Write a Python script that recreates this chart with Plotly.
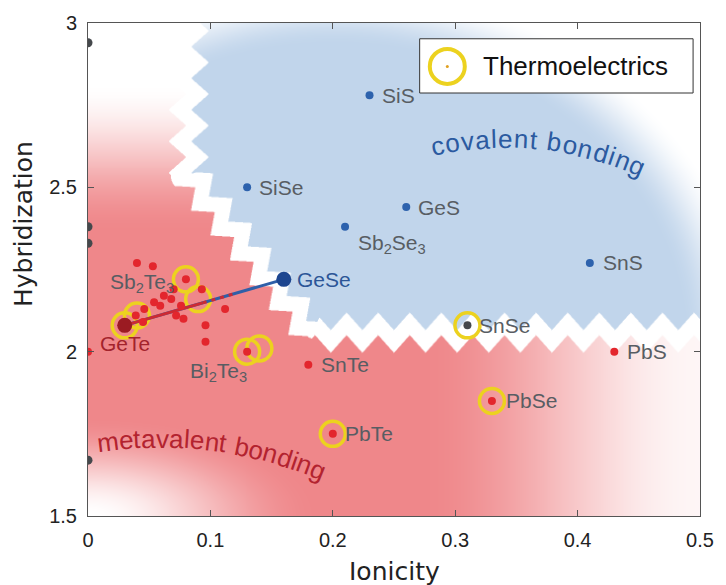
import math, zlib, struct, base64
import numpy as np
import plotly.graph_objects as go

# ---------------- data ----------------
covalent_names = ["SiS", "SiSe", "GeS", "Sb<sub>2</sub>Se<sub>3</sub>", "SnS"]
covalent_x = [0.23, 0.13, 0.26, 0.21, 0.41]
covalent_y = [2.78, 2.50, 2.44, 2.38, 2.27]

gese_x, gese_y = [0.16], [2.22]
gete_x, gete_y = [0.03], [2.08]

mvb_names = ["Sb<sub>2</sub>Te<sub>3</sub>", "Bi<sub>2</sub>Te<sub>3</sub>", "SnTe", "PbTe", "PbSe", "PbS"]
mvb_x = [0.08, 0.13, 0.18, 0.20, 0.33, 0.43]
mvb_y = [2.22, 2.00, 1.96, 1.75, 1.85, 2.00]

cluster_x = [0.040, 0.053, 0.093, 0.070, 0.062, 0.068, 0.054, 0.046, 0.039, 0.045,
             0.076, 0.072, 0.078, 0.112, 0.096, 0.096, 0.059, 0.0]
cluster_y = [2.27, 2.26, 2.19, 2.19, 2.17, 2.16, 2.15, 2.13, 2.11, 2.09,
             2.14, 2.11, 2.10, 2.13, 2.08, 2.03, 2.14, 2.00]

snse_x, snse_y = [0.31], [2.08]

edge_x = [0.0, 0.0, 0.0, 0.0]
edge_y = [2.94, 2.38, 2.33, 1.67]

thermo_x = [0.03, 0.04, 0.08, 0.09, 0.13, 0.14, 0.20, 0.33, 0.31]
thermo_y = [2.08, 2.11, 2.22, 2.16, 2.00, 2.01, 1.75, 1.85, 2.08]

x_ticks = [0, 0.1, 0.2, 0.3, 0.4, 0.5]
y_ticks = [1.5, 2, 2.5, 3]

# ---------------- geometry / styling ----------------
FIG_W, FIG_H = 726, 585
ML, MR, MT, MB = 88, 18, 16, 69
PW, PH = FIG_W - ML - MR, FIG_H - MT - MB
XR, YR = (0, 0.5), (1.5, 3.0)

RED_DOT = "#e3262d"
BLUE_DOT = "#2d62ad"
LABEL_C = "#585d63"
YELLOW = "#ecd21f"
LBL_FONT = "Liberation Sans, Arial, sans-serif"


def smoothstep(e0, e1, v):
    t = np.clip((v - e0) / (e1 - e0), 0, 1)
    return t * t * (3 - 2 * t)


def background_png():
    ss = 2
    W, H = PW * ss, PH * ss
    px = (np.arange(W) + 0.5) / ss
    py = (np.arange(H) + 0.5) / ss
    PX, PY = np.meshgrid(px, py)
    xd = XR[0] + PX / PW * (XR[1] - XR[0])
    yd = YR[1] - PY / PH * (YR[1] - YR[0])

    # zigzag boundary centre line (plot-pixel space)
    pts = np.array([[102, -40], [102, 154], [227, 314], [700, 314]], float)
    best = np.full(PX.shape, np.inf)
    signed = np.zeros(PX.shape)
    sarc = np.zeros(PX.shape)
    cum = 0.0
    for k in range(len(pts) - 1):
        A, B = pts[k], pts[k + 1]
        v = B - A
        L = math.hypot(*v)
        u = v / L
        rx, ry = PX - A[0], PY - A[1]
        t = np.clip(rx * u[0] + ry * u[1], 0, L)
        cx, cy = A[0] + u[0] * t, A[1] + u[1] * t
        dist = np.hypot(PX - cx, PY - cy)
        side = rx * u[1] - ry * u[0]
        sgn = np.where(side >= 0, 1.0, -1.0)
        m = dist < best
        best = np.where(m, dist, best)
        signed = np.where(m, sgn * dist, signed)
        sarc = np.where(m, cum + t, sarc)
        cum += L
    period, amp, half = 32.0, 9.0, 11.5
    f = sarc / period
    z = amp * (2 * np.abs(2 * (f - np.floor(f + 0.5))) - 1)
    blue_mask = signed > z + half
    red_mask = signed < z - half

    # red intensity
    f_top = smoothstep(2.82, 2.36, yd)
    qc = np.sqrt((xd / 0.2) ** 2 + ((yd - 1.5) / 0.32) ** 2)
    f_corner = smoothstep(0.0, 0.95, qc)
    f_right = 1 - 0.92 * smoothstep(0.27, 0.5, xd)
    fr = f_top * f_corner * f_right

    # blue intensity
    qe = np.sqrt(((PX - 250) / 380.0) ** 2 + ((PY - 330) / 330.0) ** 2)
    fb = 1 - smoothstep(0.93, 1.12, qe)

    red = np.array([239, 135, 138], float)
    blue = np.array([193, 213, 235], float)
    img = np.full((H, W, 3), 255.0)
    img = np.where(red_mask[..., None], 255 - (255 - red) * fr[..., None], img)
    img = np.where(blue_mask[..., None], 255 - (255 - blue) * fb[..., None], img)
    img = img.reshape(PH, ss, PW, ss, 3).mean(axis=(1, 3))
    img = np.clip(np.round(img), 0, 255).astype(np.uint8)

    raw = b"".join(b"\x00" + row.tobytes() for row in img)

    def chunk(tag, data):
        return struct.pack(">I", len(data)) + tag + data + struct.pack(">I", zlib.crc32(tag + data) & 0xffffffff)

    png = (b"\x89PNG\r\n\x1a\n"
           + chunk(b"IHDR", struct.pack(">IIBBBBB", PW, PH, 8, 2, 0, 0, 0))
           + chunk(b"IDAT", zlib.compress(raw, 9))
           + chunk(b"IEND", b""))
    return "data:image/png;base64," + base64.b64encode(png).decode()


fig = go.Figure()

# thermoelectric circles
fig.add_trace(go.Scatter(x=thermo_x, y=thermo_y, mode="markers", name="Thermoelectrics",
                         marker=dict(symbol="circle-open", size=25, color=YELLOW,
                                     line=dict(width=3.5, color=YELLOW)),
                         showlegend=False, hoverinfo="skip"))

# GeTe -> GeSe line (blue under, red part over)
lx = [gete_x[0], gese_x[0]]
ly = [gete_y[0], gese_y[0]]
fig.add_trace(go.Scatter(x=lx, y=ly, mode="lines", line=dict(color="#2f5fa8", width=3),
                         showlegend=False, hoverinfo="skip"))
fr1, fr2 = 0.49, 0.68
mx1 = lx[0] + (lx[1] - lx[0]) * fr1
my1 = ly[0] + (ly[1] - ly[0]) * fr1
mx2 = lx[0] + (lx[1] - lx[0]) * fr2
my2 = ly[0] + (ly[1] - ly[0]) * fr2
fig.add_trace(go.Scatter(x=[lx[0], mx1], y=[ly[0], my1], mode="lines",
                         line=dict(color="#cc2a33", width=3), showlegend=False, hoverinfo="skip"))
fig.add_trace(go.Scatter(x=[mx1, mx2], y=[my1, my2], mode="lines",
                         line=dict(color="#cc2a33", width=3, dash="4px,5px"), showlegend=False, hoverinfo="skip"))

# points
fig.add_trace(go.Scatter(x=cluster_x, y=cluster_y, mode="markers",
                         marker=dict(size=8, color=RED_DOT), showlegend=False))
fig.add_trace(go.Scatter(x=mvb_x, y=mvb_y, mode="markers",
                         marker=dict(size=8, color=RED_DOT), showlegend=False))
fig.add_trace(go.Scatter(x=covalent_x, y=covalent_y, mode="markers",
                         marker=dict(size=8, color=BLUE_DOT), showlegend=False))
fig.add_trace(go.Scatter(x=snse_x, y=snse_y, mode="markers",
                         marker=dict(size=8, color="#45484c"), showlegend=False))
fig.add_trace(go.Scatter(x=edge_x, y=edge_y, mode="markers", cliponaxis=True,
                         marker=dict(size=9, color="#45484c"), showlegend=False))
fig.add_trace(go.Scatter(x=gete_x, y=gete_y, mode="markers",
                         marker=dict(size=15, color="#9b1b22"), showlegend=False))
fig.add_trace(go.Scatter(x=gese_x, y=gese_y, mode="markers",
                         marker=dict(size=15, color="#1d4690"), showlegend=False))

# ---------------- labels ----------------
annotations = []
label_style = {
    "SiS": dict(xanchor="left", xshift=10, yshift=0),
    "SiSe": dict(xanchor="left", xshift=10, yshift=0),
    "GeS": dict(xanchor="left", xshift=10, yshift=0),
    "Sb<sub>2</sub>Se<sub>3</sub>": dict(xanchor="left", xshift=11, yshift=-17),
    "SnS": dict(xanchor="left", xshift=11, yshift=0),
    "Sb<sub>2</sub>Te<sub>3</sub>": dict(xanchor="right", xshift=-10, yshift=-4),
    "Bi<sub>2</sub>Te<sub>3</sub>": dict(xanchor="right", xshift=2, yshift=-20),
    "SnTe": dict(xanchor="left", xshift=11, yshift=0),
    "PbTe": dict(xanchor="left", xshift=10, yshift=0),
    "PbSe": dict(xanchor="left", xshift=12, yshift=0),
    "PbS": dict(xanchor="left", xshift=11, yshift=0),
}
for names, xs, ys in ((covalent_names, covalent_x, covalent_y), (mvb_names, mvb_x, mvb_y)):
    for n, x, y in zip(names, xs, ys):
        st = label_style[n]
        annotations.append(dict(x=x, y=y, xref="x", yref="y", text=n, showarrow=False,
                                xanchor=st["xanchor"], yanchor="middle",
                                xshift=st["xshift"], yshift=st["yshift"],
                                font=dict(family=LBL_FONT, size=21, color=LABEL_C)))
annotations.append(dict(x=snse_x[0], y=snse_y[0], text="SnSe", showarrow=False, xanchor="left",
                        yanchor="middle", xshift=10, font=dict(family=LBL_FONT, size=21, color=LABEL_C)))
annotations.append(dict(x=gese_x[0], y=gese_y[0], text="GeSe", showarrow=False, xanchor="left",
                        yanchor="middle", xshift=11, font=dict(family=LBL_FONT, size=21, color="#2c5597")))
annotations.append(dict(x=gete_x[0], y=gete_y[0], text="GeTe", showarrow=False, xanchor="center",
                        yanchor="middle", xshift=0, yshift=-18, font=dict(family=LBL_FONT, size=21, color="#a3232c")))

# ---------------- curved texts ----------------
ARIAL_W = {"c": 500, "o": 556, "v": 500, "a": 556, "l": 222, "e": 556, "n": 556, "t": 278,
           " ": 278, "b": 556, "d": 556, "i": 222, "g": 556, "m": 833}


def curved_text(text, center, radius, phi_start, phi_end, size, color):
    widths = [ARIAL_W[c] / 1000 * size for c in text]
    arc = radius * math.radians(phi_end - phi_start)
    track = (arc - sum(widths)) / max(len(text) - 1, 1)
    s = 0.0
    rc = radius + 0.33 * size
    for ch, w in zip(text, widths):
        sc = s + w / 2
        phi = math.radians(phi_start) + sc / radius
        px = center[0] + rc * math.sin(phi)
        py = center[1] - rc * math.cos(phi)
        s += w + track
        if ch == " ":
            continue
        annotations.append(dict(x=(px - ML) / PW, y=1 - (py - MT) / PH, xref="paper", yref="paper",
                                text=ch, showarrow=False, xanchor="center", yanchor="middle",
                                textangle=math.degrees(phi),
                                font=dict(family=LBL_FONT, size=size, color=color)))


curved_text("covalent bonding", (510, 473), 331, -12.7, 24.6, 26, "#2b5aa0")
curved_text("metavalent bonding", (160, 864), 418, -8.5, 23.2, 26, "#b3232f")

# ---------------- axis titles ----------------
annotations.append(dict(x=0.5, y=1 - (572 - MT) / PH, xref="paper", yref="paper", text="Ionicity",
                        showarrow=False, xanchor="center", yanchor="middle",
                        font=dict(family="DejaVu Sans, Verdana, sans-serif", size=25, color="#222")))
annotations.append(dict(x=(22 - ML) / PW, y=1 - (220 - MT) / PH, xref="paper", yref="paper",
                        text="Hybridization", textangle=-90, showarrow=False,
                        xanchor="center", yanchor="middle",
                        font=dict(family="DejaVu Sans, Verdana, sans-serif", size=25, color="#222")))

# ---------------- legend (manual) ----------------
shapes = [
    dict(type="rect", xref="paper", yref="paper", x0=(424 - ML) / PW, x1=(701 - ML) / PW,
         y0=1 - (87 - MT) / PH, y1=1 - (32 - MT) / PH, fillcolor="white",
         line=dict(color="#333", width=1), layer="above"),
    dict(type="circle", xref="paper", yref="paper", xsizemode="pixel", ysizemode="pixel",
         xanchor=(452 - ML) / PW, yanchor=1 - (60 - MT) / PH, x0=-17.5, x1=17.5, y0=-17.5, y1=17.5,
         line=dict(color=YELLOW, width=4), layer="above"),
    dict(type="circle", xref="paper", yref="paper", xsizemode="pixel", ysizemode="pixel",
         xanchor=(452 - ML) / PW, yanchor=1 - (60 - MT) / PH, x0=-1.5, x1=1.5, y0=-1.5, y1=1.5,
         fillcolor="#e0a020", line=dict(width=0), layer="above"),
]
annotations.append(dict(x=(486 - ML) / PW, y=1 - (60 - MT) / PH, xref="paper", yref="paper",
                        text="Thermoelectrics", showarrow=False, xanchor="left", yanchor="middle",
                        font=dict(family=LBL_FONT, size=26, color="#111")))

axis_common = dict(showgrid=False, zeroline=False, showline=True, linecolor="#555", linewidth=1,
                   mirror="ticks", ticks="inside", ticklen=6, tickcolor="#555",
                   tickfont=dict(family=LBL_FONT, size=20, color="#222"))

fig.update_layout(
    width=FIG_W, height=FIG_H, autosize=False,
    margin=dict(l=ML, r=MR, t=MT, b=MB),
    paper_bgcolor="white", plot_bgcolor="white",
    xaxis=dict(range=list(XR), tickvals=x_ticks, ticklabelstandoff=6, **axis_common),
    yaxis=dict(range=list(YR), tickvals=y_ticks, ticklabelstandoff=6, **axis_common),
    images=[dict(source=background_png(), xref="x", yref="y", x=XR[0], y=YR[1],
                 sizex=XR[1] - XR[0], sizey=YR[1] - YR[0], sizing="stretch",
                 xanchor="left", yanchor="top", layer="below")],
    shapes=shapes,
    annotations=annotations,
    showlegend=False,
)

fig.write_html("out.html")
